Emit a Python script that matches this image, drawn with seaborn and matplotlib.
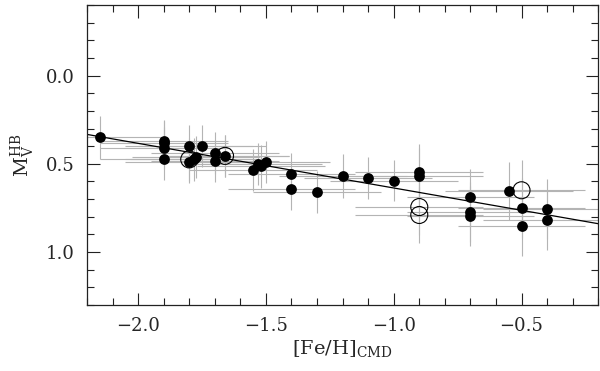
import numpy as np
import pandas as pd
import matplotlib
matplotlib.use("Agg")
import matplotlib.pyplot as plt
import seaborn as sns
from matplotlib.ticker import MultipleLocator

# filled points: [Fe/H]_CMD, M_V(HB) and their errors
feh = [-2.15, -1.90, -1.90, -1.90, -1.90, -1.80, -1.80, -1.78, -1.775, -1.75,
       -1.70, -1.70, -1.66, -1.55, -1.53, -1.52, -1.50, -1.40, -1.40, -1.30,
       -1.20, -1.10, -1.00, -0.90, -0.90, -0.70, -0.70, -0.70, -0.55, -0.50,
       -0.50, -0.40, -0.40]
mv = [0.35, 0.37, 0.38, 0.41, 0.47, 0.40, 0.49, 0.475, 0.46, 0.40,
      0.44, 0.485, 0.455, 0.535, 0.50, 0.515, 0.49, 0.56, 0.64, 0.66,
      0.57, 0.58, 0.595, 0.545, 0.57, 0.69, 0.775, 0.795, 0.655, 0.75,
      0.85, 0.755, 0.82]
feh_err = [0.25, 0.25, 0.25, 0.25, 0.25, 0.25, 0.25, 0.25, 0.25, 0.25,
           0.25, 0.25, 0.25, 0.25, 0.25, 0.25, 0.25, 0.25, 0.25, 0.25,
           0.25, 0.25, 0.25, 0.25, 0.25, 0.25, 0.25, 0.25, 0.25, 0.25,
           0.25, 0.25, 0.25]
mv_err = [0.12, 0.12, 0.12, 0.12, 0.12, 0.12, 0.12, 0.12, 0.12, 0.12,
          0.12, 0.12, 0.12, 0.12, 0.12, 0.12, 0.12, 0.12, 0.12, 0.12,
          0.125, 0.12, 0.115, 0.16, 0.16, 0.16, 0.17, 0.17, 0.165, 0.17,
          0.17, 0.17, 0.17]

# open circles
feh_open = [-1.80, -1.66, -0.90, -0.90, -0.50]
mv_open = [0.475, 0.455, 0.745, 0.79, 0.65]
feh_open_err = [0.25, 0.25, 0.25, 0.25, 0.25]
mv_open_err = [0.12, 0.12, 0.16, 0.16, 0.17]

# linear relation M_V = slope*[Fe/H] + zero
fit_slope = 0.253
fit_zero = 0.89

x_lim = (-2.2, -0.2)
y_lim = (1.3, -0.4)

sns.set_theme(style="ticks")
plt.rcParams['font.family'] = ['DejaVu Serif']
plt.rcParams['mathtext.fontset'] = 'dejavuserif'

fig = plt.figure(figsize=(6, 3.71), dpi=100)
ax = fig.add_axes([0.145, 0.178, 0.852, 0.8085])

df = pd.DataFrame({'feh': feh, 'mv': mv})
df_open = pd.DataFrame({'feh': feh_open, 'mv': mv_open})

ax.errorbar(feh + feh_open, mv + mv_open, xerr=feh_err + feh_open_err,
            yerr=mv_err + mv_open_err, fmt='none', ecolor='#b4b4b4',
            elinewidth=0.8, capsize=0, zorder=1)

fit = pd.DataFrame({'feh': list(x_lim)})
fit['mv'] = fit_slope * fit['feh'] + fit_zero
sns.lineplot(data=fit, x='feh', y='mv', color='black', lw=0.9, ax=ax, zorder=2)

sns.scatterplot(data=df, x='feh', y='mv', color='black', s=60,
                edgecolor='black', linewidth=0, ax=ax, zorder=3)
sns.scatterplot(data=df_open, x='feh', y='mv', facecolor='none', s=150,
                edgecolor='black', linewidth=0.8, ax=ax, zorder=4)

ax.set_xlim(*x_lim)
ax.set_ylim(*y_lim)
ax.xaxis.set_major_locator(MultipleLocator(0.5))
ax.xaxis.set_minor_locator(MultipleLocator(0.1))
ax.yaxis.set_major_locator(MultipleLocator(0.5))
ax.yaxis.set_minor_locator(MultipleLocator(0.1))
ax.tick_params(which='both', direction='in', top=True, right=True,
               width=0.8, color='#222222', labelsize=13, pad=9)
ax.tick_params(which='major', length=9)
ax.tick_params(which='minor', length=5)
for s in ax.spines.values():
    s.set_linewidth(0.9)
    s.set_color('#222222')

ax.set_xlabel(r'$[\mathrm{Fe/H}]_{\mathrm{CMD}}$', fontsize=14, labelpad=2)
ax.set_ylabel(r'$\mathrm{M}_{\mathrm{V}}^{\mathrm{HB}}$', fontsize=14, labelpad=6)

fig.savefig('out.png', dpi=100)
